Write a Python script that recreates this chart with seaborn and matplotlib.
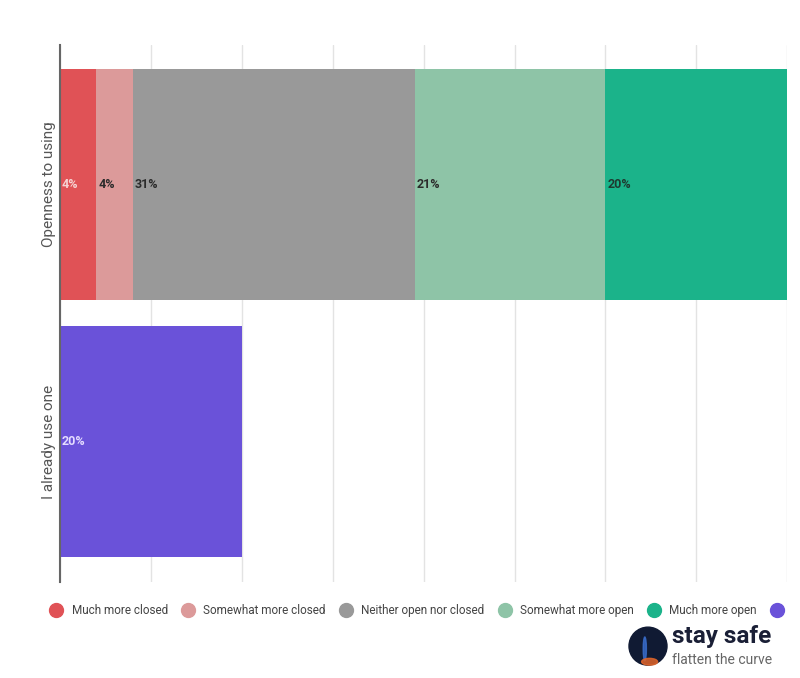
import pandas as pd
import numpy as np
import matplotlib.pyplot as plt
from matplotlib.lines import Line2D
from matplotlib.patches import Ellipse
import seaborn as sns

# ─── DATA ─────────────────────────────────────────────────────────────────────
categories = ["Openness to using", "I already use one"]
segments = ["Much more closed", "Somewhat more closed", "Neither open nor closed",
            "Somewhat more open", "Much more open"]
openness_values = [4, 4, 31, 21, 20]
already_use = [20]
seg_colors = ["#e05256", "#dc9a9a", "#999999", "#8ec4a7", "#1bb38a"]
purple = "#6a52d9"
label_colors = ["#f6d3d3", "#2b2b2b", "#2b2b2b", "#2b2b2b", "#1e3a30"]

# ─── STYLE ────────────────────────────────────────────────────────────────────
sns.set_theme(style="white")
plt.rcParams["font.family"] = ["Roboto", "DejaVu Sans"]

fig = plt.figure(figsize=(8, 6.78), dpi=100, facecolor="white")
ax = fig.add_axes([0.075, 0.1416, 0.909, 0.792])

# stacked bars: draw cumulative right edges, largest first
cum = np.cumsum(openness_values)
for i in reversed(range(len(segments))):
    d = pd.DataFrame({"cat": [categories[0]], "val": [cum[i]]})
    sns.barplot(data=d, x="val", y="cat", color=seg_colors[i], width=0.9,
                saturation=1, ax=ax, orient="h", order=categories, linewidth=0)
d2 = pd.DataFrame({"cat": [categories[1]], "val": already_use})
sns.barplot(data=d2, x="val", y="cat", color=purple, width=0.9,
            saturation=1, ax=ax, orient="h", order=categories, linewidth=0)

# value labels at left edge of each segment
lefts = np.concatenate([[0], cum[:-1]])
for left, v, c in zip(lefts, openness_values, label_colors):
    ax.text(left + 0.2, 0, f"{v}%", va="center", ha="left", fontsize=9,
            fontweight="bold", color=c)
ax.text(0.2, 1, f"{already_use[0]}%", va="center", ha="left", fontsize=9,
        fontweight="bold", color="#e4dcff")

ax.set_xlim(0, 80)
ax.set_ylim(1.547, -0.543)
ax.set_xticks(np.arange(0, 81, 10))
ax.set_xticklabels([])
ax.xaxis.grid(True, color="#e3e3e3", linewidth=1)
ax.set_axisbelow(True)
ax.set_xlabel("")
ax.set_ylabel("")
ax.tick_params(axis="y", length=0, pad=3)
ax.set_yticklabels(categories, rotation=90, va="center", fontsize=11, color="#555555")
for side in ["top", "right", "bottom"]:
    ax.spines[side].set_visible(False)
ax.spines["left"].set_color("#666666")
ax.spines["left"].set_linewidth(1.5)
ax.set_facecolor("none")

# legend
handles = [Line2D([], [], marker="o", linestyle="", markersize=10, color=c)
           for c in seg_colors + [purple]]
labels = segments + [""]
fig.legend(handles, labels, loc="center", bbox_to_anchor=(0.523, 0.1), ncol=6,
           frameon=False, fontsize=8.5, handletextpad=0.3, columnspacing=0.7,
           labelcolor="#444444")

# logo
fig.patches.append(Ellipse((0.81, 0.047), 0.0475, 0.056, transform=fig.transFigure,
                           color="#101a33"))
fig.patches.append(Ellipse((0.806, 0.043), 0.004, 0.035, transform=fig.transFigure,
                           color="#3a6fd0", alpha=0.8))
fig.patches.append(Ellipse((0.812, 0.024), 0.02, 0.01, transform=fig.transFigure,
                           color="#e0652a", alpha=0.85))
fig.text(0.84, 0.061, "stay safe", fontsize=17.5, fontweight="bold", color="#1a1f36",
         va="center", ha="left")
fig.text(0.84, 0.027, "flatten the curve", fontsize=10, color="#666666",
         va="center", ha="left")

plt.savefig("out.png", dpi=100, facecolor="white")
